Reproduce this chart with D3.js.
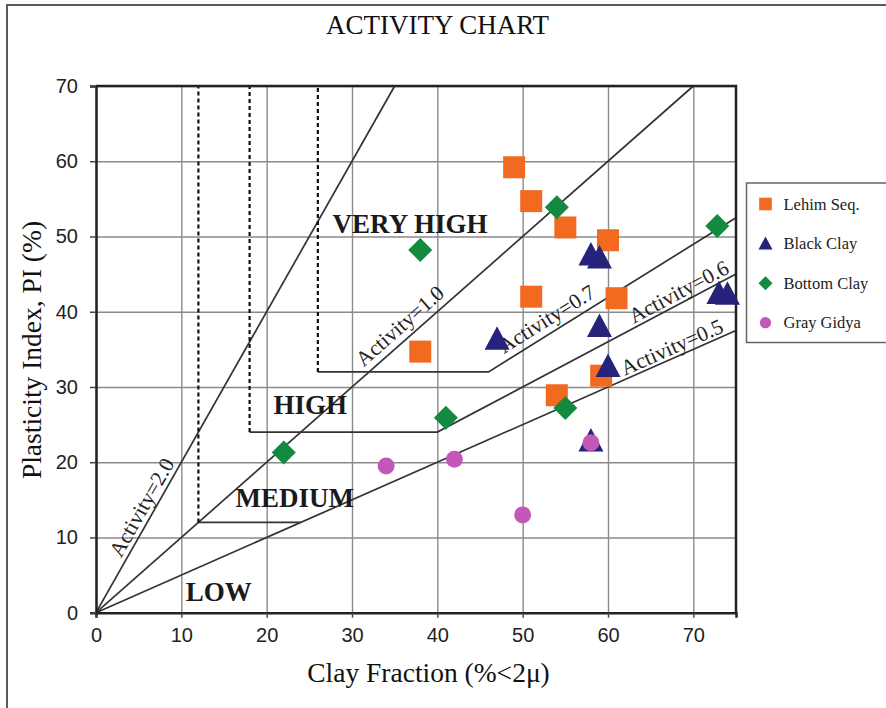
<!DOCTYPE html>
<html>
<head>
<meta charset="utf-8">
<script src="https://cdn.jsdelivr.net/npm/d3@7/dist/d3.min.js"></script>
<style>
  html, body { margin: 0; padding: 0; background: #fff; }
  svg { display: block; }
  .serif { font-family: "Liberation Serif", "Times New Roman", serif; }
  .sans { font-family: "Liberation Sans", Arial, sans-serif; }
</style>
</head>
<body>
<svg id="chart" width="886" height="708"></svg>
<script>
// ---- data ----
const xTicks = [0, 10, 20, 30, 40, 50, 60, 70];
const yTicks = [0, 10, 20, 30, 40, 50, 60, 70];

const seriesNames = ["Lehim Seq.", "Black Clay", "Bottom Clay", "Gray Gidya"];

// [clay fraction %, plasticity index %]
const lehimSeq = [[49, 59.2], [51, 54.7], [55, 51.2], [60, 49.5], [51, 42], [61, 41.8],
                  [38, 34.7], [54, 28.9], [59.2, 31.5]];
const blackClay = [[47, 36.4], [58, 47.6], [59, 47.2], [59, 38.1], [60, 32.8], [58, 22.9],
                   [73, 42.5], [74, 42.4]];
const bottomClay = [[54, 53.9], [72.8, 51.4], [38, 48.2], [41, 25.9], [55, 27.2], [22, 21.3]];
const grayGidya = [[34, 19.5], [42, 20.4], [50, 13], [58, 22.6]];

// activity lines and class boundaries
const activity20 = [[0, 0], [35, 70]];
const activity10 = [[0, 0], [70, 70]];
const activity05 = [[0, 0], [75, 37.5]];
const mediumEdge = [[12, 12], [24, 12]];
const highEdge = [[18, 24], [40, 24], [75, 45]];
const veryHighEdge = [[26, 32], [46, 32], [75, 52.5]];
const cutoffs = [[[12, 12], [12, 70]], [[18, 24], [18, 70]], [[26, 32], [26, 70]]];

const activityLabels = ["Activity=2.0", "Activity=1.0", "Activity=0.7", "Activity=0.6", "Activity=0.5"];
const classLabels = ["VERY HIGH", "HIGH", "MEDIUM", "LOW"];

// ---- layout ----
const svg = d3.select("#chart");
const plot = { left: 96, right: 736, top: 86, bottom: 612.7 };
const x = d3.scaleLinear().domain([0, 75]).range([plot.left, plot.right]);
const y = d3.scaleLinear().domain([0, 70]).range([plot.bottom, plot.top]);

const colors = ["#f26a1f", "#25237c", "#138a3f", "#c458b8"];

// outer frame (left and top edges visible)
svg.append("path")
  .attr("d", "M7,708 L7,5 L890,5")
  .attr("fill", "none").attr("stroke", "#5a5a5a").attr("stroke-width", 2);

// title
svg.append("text").attr("class", "serif")
  .attr("x", 437.5).attr("y", 34).attr("text-anchor", "middle")
  .attr("font-size", 27).attr("fill", "#111")
  .text("ACTIVITY CHART");

// grid
const grid = svg.append("g");
grid.append("g").attr("transform", `translate(0,${plot.bottom})`)
  .call(d3.axisBottom(x).tickValues(xTicks).tickSize(-(plot.bottom - plot.top)).tickFormat(""))
  .call(g => g.select(".domain").remove())
  .call(g => g.selectAll("line").attr("stroke", "#8a8a8a").attr("stroke-width", 1.4));
grid.append("g").attr("transform", `translate(${plot.left},0)`)
  .call(d3.axisLeft(y).tickValues(yTicks).tickSize(-(plot.right - plot.left)).tickFormat(""))
  .call(g => g.select(".domain").remove())
  .call(g => g.selectAll("line").attr("stroke", "#8a8a8a").attr("stroke-width", 1.4));

// activity lines and boundaries
const line = d3.line().x(d => x(d[0])).y(d => y(d[1]));
const solid = [activity20, activity10, activity05, mediumEdge, highEdge, veryHighEdge];
svg.append("g").selectAll("path").data(solid).join("path")
  .attr("d", line).attr("fill", "none")
  .attr("stroke", "#333").attr("stroke-width", 1.7);
svg.append("g").selectAll("path").data(cutoffs).join("path")
  .attr("d", line).attr("fill", "none")
  .attr("stroke", "#111").attr("stroke-width", 2.2).attr("stroke-dasharray", "4,3");

// activity labels along their lines
function segAt(pts, cx) {
  for (let i = 0; i < pts.length - 1; i++) {
    const a = pts[i], b = pts[i + 1];
    if (cx >= a[0] && cx <= b[0]) {
      const t = (cx - a[0]) / (b[0] - a[0]);
      return { p: [cx, a[1] + t * (b[1] - a[1])], a, b };
    }
  }
}
const labelSpecs = [
  { text: activityLabels[0], pts: activity20, at: 6.6, off: 5 },
  { text: activityLabels[1], pts: activity10, at: 36.7, off: 7 },
  { text: activityLabels[2], pts: veryHighEdge, at: 53.7, off: 7 },
  { text: activityLabels[3], pts: highEdge, at: 68.9, off: 4 },
  { text: activityLabels[4], pts: activity05, at: 68.0, off: 3.5 }
];
svg.append("g").selectAll("text").data(labelSpecs).join("text")
  .attr("class", "serif")
  .attr("font-size", 21.5).attr("fill", "#222").attr("text-anchor", "middle")
  .attr("transform", d => {
    const s = segAt(d.pts, d.at);
    const ang = Math.atan2(y(s.b[1]) - y(s.a[1]), x(s.b[0]) - x(s.a[0])) * 180 / Math.PI;
    return `translate(${x(s.p[0])},${y(s.p[1])}) rotate(${ang})`;
  })
  .attr("y", d => -d.off)
  .text(d => d.text);

// class labels
const classPos = [[36.8, 50.5], [25.1, 26.4], [23.3, 14.1], [14.4, 1.6]];
svg.append("g").selectAll("text").data(classLabels).join("text")
  .attr("class", "serif")
  .attr("font-size", 27).attr("font-weight", "bold").attr("fill", "#1a1a1a")
  .attr("text-anchor", "middle")
  .attr("x", (d, i) => x(classPos[i][0])).attr("y", (d, i) => y(classPos[i][1]))
  .text(d => d);

// axes
svg.append("g").attr("transform", `translate(0,${plot.bottom})`)
  .call(d3.axisBottom(x).tickValues(xTicks).tickSize(5).tickPadding(10))
  .call(g => g.select(".domain").attr("stroke", "#222").attr("stroke-width", 2.5))
  .call(g => g.selectAll(".tick line").attr("stroke", "#444").attr("stroke-width", 1.5))
  .call(g => g.selectAll("text").attr("class", "sans").attr("font-size", 20).attr("fill", "#222"));
svg.append("g").attr("transform", `translate(${plot.left},0)`)
  .call(d3.axisLeft(y).tickValues(yTicks).tickSize(6).tickPadding(12))
  .call(g => g.select(".domain").attr("stroke", "#222").attr("stroke-width", 2.5))
  .call(g => g.selectAll(".tick line").attr("stroke", "#444").attr("stroke-width", 1.5))
  .call(g => g.selectAll("text").attr("class", "sans").attr("font-size", 20).attr("fill", "#222"));
// top and right border
svg.append("path")
  .attr("d", `M${plot.left},${plot.top} L${plot.right},${plot.top} L${plot.right},${plot.bottom}`)
  .attr("fill", "none").attr("stroke", "#222").attr("stroke-width", 2.5);

// axis titles
svg.append("text").attr("class", "serif")
  .attr("x", 428.5).attr("y", 682).attr("text-anchor", "middle")
  .attr("font-size", 27.5).attr("fill", "#111")
  .text("Clay Fraction (%<2μ)");
svg.append("text").attr("class", "serif")
  .attr("transform", "translate(41,350) rotate(-90)").attr("text-anchor", "middle")
  .attr("font-size", 27.5).attr("fill", "#111")
  .text("Plasticity Index, PI (%)");

// markers
const sq = d3.symbol().type(d3.symbolSquare).size(484)();
const tri = "M0,-12.5L12.5,11L-12.5,11Z";
const dia = "M0,-12L12,0L0,12L-12,0Z";
const pts = svg.append("g");
pts.selectAll(".lehim").data(lehimSeq).join("path").attr("class", "lehim")
  .attr("d", sq).attr("fill", colors[0])
  .attr("transform", d => `translate(${x(d[0])},${y(d[1])})`);
pts.selectAll(".black").data(blackClay).join("path").attr("class", "black")
  .attr("d", tri).attr("fill", colors[1])
  .attr("transform", d => `translate(${x(d[0])},${y(d[1])})`);
pts.selectAll(".bottom").data(bottomClay).join("path").attr("class", "bottom")
  .attr("d", dia).attr("fill", colors[2])
  .attr("transform", d => `translate(${x(d[0])},${y(d[1])})`);
pts.selectAll(".gray").data(grayGidya).join("circle").attr("class", "gray")
  .attr("r", 8.5).attr("fill", colors[3])
  .attr("cx", d => x(d[0])).attr("cy", d => y(d[1]));

// legend
const lg = svg.append("g");
lg.append("rect").attr("x", 746.5).attr("y", 183).attr("width", 150).attr("height", 159.5)
  .attr("fill", "#fff").attr("stroke", "#666").attr("stroke-width", 1.5);
const legendMarks = [
  d3.symbol().type(d3.symbolSquare).size(160)(),
  "M0,-7L7,6L-7,6Z",
  "M0,-7L7,0L0,7L-7,0Z",
  d3.symbol().type(d3.symbolCircle).size(100)()
];
const ly = d3.scalePoint().domain(seriesNames).range([204, 322.7]);
const items = lg.selectAll("g").data(seriesNames).join("g")
  .attr("transform", d => `translate(765.5,${ly(d)})`);
items.append("path").attr("d", (d, i) => legendMarks[i]).attr("fill", (d, i) => colors[i]);
items.append("text").attr("class", "serif")
  .attr("x", 18).attr("y", 5.5).attr("font-size", 16.5).attr("fill", "#222")
  .text(d => d);
</script>
</body>
</html>
